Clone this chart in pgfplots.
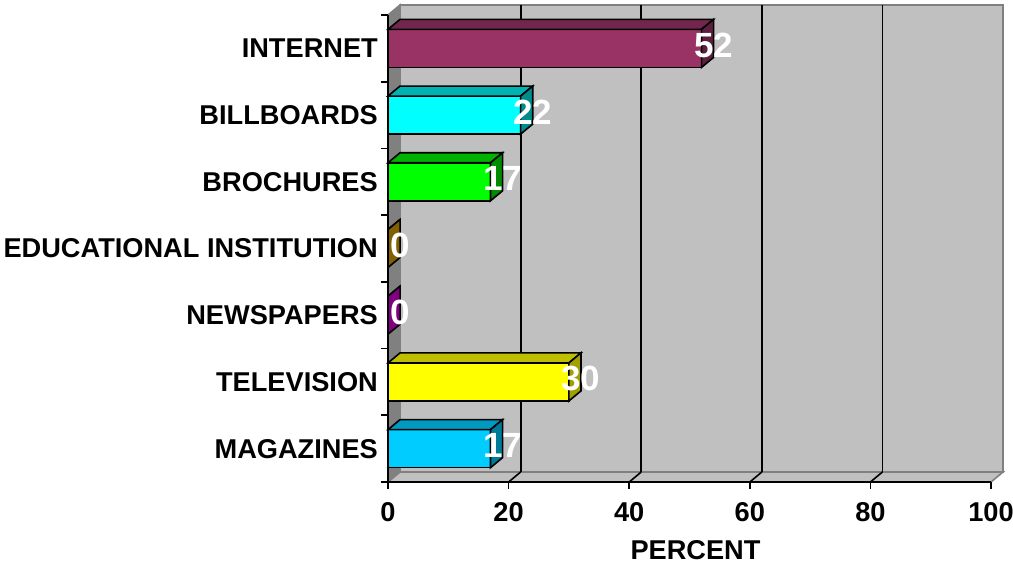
\documentclass[border=0pt]{standalone}
\usepackage{pgfplots}
\pgfplotsset{compat=1.18}
\usepackage{fontspec}
\setmainfont{Liberation Sans}
\definecolor{wall}{HTML}{C0C0C0}
\definecolor{sidewall}{HTML}{808080}
\definecolor{fInt}{HTML}{993366}\definecolor{tInt}{HTML}{73264D}\definecolor{sInt}{HTML}{5C1F3D}
\definecolor{fBil}{HTML}{00FFFF}\definecolor{tBil}{HTML}{00B3B3}\definecolor{sBil}{HTML}{008C8C}
\definecolor{fBro}{HTML}{00FF00}\definecolor{tBro}{HTML}{00B300}\definecolor{sBro}{HTML}{008C00}
\definecolor{fEdu}{HTML}{A67D00}\definecolor{tEdu}{HTML}{997300}\definecolor{sEdu}{HTML}{806000}
\definecolor{fNew}{HTML}{A000A0}\definecolor{tNew}{HTML}{8C008C}\definecolor{sNew}{HTML}{800080}
\definecolor{fTel}{HTML}{FFFF00}\definecolor{tTel}{HTML}{BFBF00}\definecolor{sTel}{HTML}{A0A000}
\definecolor{fMag}{HTML}{00CCFF}\definecolor{tMag}{HTML}{0099BF}\definecolor{sMag}{HTML}{007A99}
% value, category centre, front, top, side colours
\newcommand\threedbar[5]{%
  \pgfmathsetmacro\ya{#2-0.285}%
  \pgfmathsetmacro\yb{#2+0.285}%
  \pgfmathsetmacro\yc{#2+0.435}%
  \pgfmathsetmacro\yd{#2-0.135}%
  \pgfmathsetmacro\xb{#1+2}%
  \addplot[fill=#3, draw=black, line width=1.6pt, mark=none] coordinates {(0,\ya) (#1,\ya) (#1,\yb) (0,\yb)} --cycle;
  \addplot[fill=#4, draw=black, line width=1.6pt, mark=none] coordinates {(0,\yb) (2,\yc) (\xb,\yc) (#1,\yb)} --cycle;
  \addplot[fill=#5, draw=black, line width=1.6pt, mark=none] coordinates {(#1,\ya) (\xb,\yd) (\xb,\yc) (#1,\yb)} --cycle;
  \node[text=white, font=\fontsize{35}{37}\selectfont\bfseries, anchor=center, xshift=12pt, yshift=3pt] at (axis cs:#1,#2) {#1};
}
\begin{document}
\begin{tikzpicture}
\begin{axis}[
  at={(388pt,83pt)}, anchor=south west,
  scale only axis, width=603pt, height=467pt,
  xmin=0, xmax=100, ymin=0, ymax=7,
  clip=false, axis on top=true,
  axis x line*=bottom, axis y line*=left,
  axis line style={-, black, line width=1.8pt},
  tick style={black, line width=1.6pt},
  tick align=outside, major tick length=7pt,
  xtick={0,20,...,100},
  ytick={0,...,7}, yticklabels={},
  extra y ticks={0.5,1.5,...,6.5},
  extra y tick labels={MAGAZINES,TELEVISION,NEWSPAPERS,EDUCATIONAL INSTITUTION,BROCHURES,BILLBOARDS,INTERNET},
  extra y tick style={tickwidth=0pt, yticklabel style={anchor=east, inner sep=0pt, xshift=-10pt}},
  tick label style={font=\fontsize{27.2}{30}\selectfont\bfseries},
  /pgf/number format/assume math mode=true,
  xticklabel style={anchor=north, inner sep=0pt, yshift=-13pt},
  xlabel={PERCENT},
  xlabel style={at={(axis description cs:0.51,0)}, anchor=center, yshift=-68pt, font=\fontsize{27.2}{30}\selectfont\bfseries},
]
% walls
\addplot[fill=wall, draw=sidewall, line width=1.6pt, mark=none] coordinates {(2,0.15) (102,0.15) (102,7.15) (2,7.15)} --cycle;
\addplot[fill=sidewall, draw=sidewall, line width=1.6pt, mark=none] coordinates {(0,0) (2,0.15) (2,7.15) (0,7)} --cycle;
\addplot[fill=wall, draw=sidewall, line width=1.6pt, mark=none] coordinates {(0,0) (100,0) (102,0.15) (2,0.15)} --cycle;
% grid lines on back wall and floor
\addplot[black, line width=1.8pt, mark=none] coordinates {(22,0.15) (22,7.15)};
\addplot[black, line width=1.8pt, mark=none] coordinates {(42,0.15) (42,7.15)};
\addplot[black, line width=1.8pt, mark=none] coordinates {(62,0.15) (62,7.15)};
\addplot[black, line width=1.8pt, mark=none] coordinates {(82,0.15) (82,7.15)};
\addplot[black, line width=1.6pt, mark=none] coordinates {(20,0) (22,0.15)};
\addplot[black, line width=1.6pt, mark=none] coordinates {(40,0) (42,0.15)};
\addplot[black, line width=1.6pt, mark=none] coordinates {(60,0) (62,0.15)};
\addplot[black, line width=1.6pt, mark=none] coordinates {(80,0) (82,0.15)};
% bars
\threedbar{52}{6.5}{fInt}{tInt}{sInt}
\threedbar{22}{5.5}{fBil}{tBil}{sBil}
\threedbar{17}{4.5}{fBro}{tBro}{sBro}
\threedbar{0}{3.5}{fEdu}{tEdu}{sEdu}
\threedbar{0}{2.5}{fNew}{tNew}{sNew}
\threedbar{30}{1.5}{fTel}{tTel}{sTel}
\threedbar{17}{0.5}{fMag}{tMag}{sMag}
\end{axis}
\pgfresetboundingbox
\path[use as bounding box] (0,0) rectangle (1013pt,565pt);
\end{tikzpicture}
\end{document}
